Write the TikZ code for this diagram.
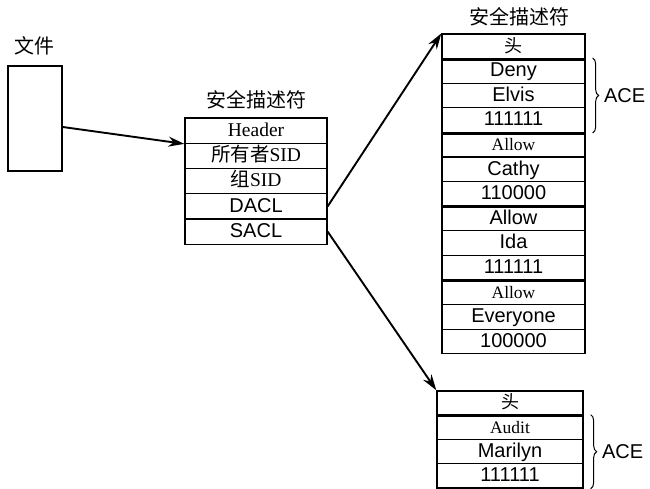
\documentclass[tikz,border=0pt]{standalone}
\usepackage{fontspec}
\setmainfont{Liberation Serif}
\setsansfont{Liberation Sans}
\newfontfamily\cjk{Noto Sans CJK SC}
\usetikzlibrary{arrows.meta,decorations.pathreplacing}
\begin{document}
\begin{tikzpicture}[x=1pt,y=-1pt,
  box/.style={draw,line width=1.3pt,inner sep=0pt,text height=12pt,text depth=0.4pt},
  mcell/.style={box,minimum width=142pt,minimum height=25.25pt},
  rcell/.style={box,minimum width=143pt,minimum height=24.6pt},
  bcell/.style={box,minimum width=146pt,minimum height=24.25pt},
  sf/.style={font=\fontsize{20}{20}\sffamily},
  rm/.style={font=\fontsize{17.5}{17.5}\rmfamily},
  mrm/.style={font=\fontsize{19.5}{19.5}\rmfamily},
  ck/.style={font=\fontsize{18}{18}\cjk},
  title/.style={font=\fontsize{20}{20}\cjk,inner sep=0pt},
  thickline/.style={line width=3pt},
  arr/.style={line width=1.9pt,-{Stealth[length=16pt,width=10pt]}},
  brace/.style={decorate,decoration={brace,amplitude=6pt},line width=1pt}]
\useasboundingbox (0,0) rectangle (650,489);

% file
\node[title] (filelbl) at (34,46) {文件};
\node[draw,line width=1.5pt,minimum width=54pt,minimum height=105pt,inner sep=0pt] (file) at (35,118.5) {};

% middle security descriptor
\node[title] (mlbl) at (256,100) {安全描述符};
\node[mcell,mrm] (m1) at (256,130.6) {Header};
\node[mcell,mrm] (m2) at (256,155.9) {{\cjk 所有者}SID};
\node[mcell,mrm] (m3) at (256,181.1) {{\cjk 组}SID};
\node[mcell,sf] (m4) at (256,206.4) {DACL};
\node[mcell,sf] (m5) at (256,231.6) {SACL};

% right descriptor (DACL)
\node[title] (rlbl) at (519,17) {安全描述符};
\node[rcell,ck] (r1) at (513.5,46.3) {头};
\node[rcell,sf] (r2) at (513.5,70.9) {Deny};
\node[rcell,sf] (r3) at (513.5,95.5) {Elvis};
\node[rcell,sf] (r4) at (513.5,120.1) {111111};
\node[rcell,rm] (r5) at (513.5,144.7) {Allow};
\node[rcell,sf] (r6) at (513.5,169.3) {Cathy};
\node[rcell,sf] (r7) at (513.5,193.9) {110000};
\node[rcell,sf] (r8) at (513.5,218.5) {Allow};
\node[rcell,sf] (r9) at (513.5,243.1) {Ida};
\node[rcell,sf] (r10) at (513.5,267.7) {111111};
\node[rcell,rm] (r11) at (513.5,292.3) {Allow};
\node[rcell,sf] (r12) at (513.5,316.9) {Everyone};
\node[rcell,sf] (r13) at (513.5,341.5) {100000};
\foreach \n in {r1,r4,r7,r10}
  \draw[thickline] (\n.south west) -- (\n.south east);

% bottom descriptor (SACL)
\node[bcell,ck] (b1) at (510,403.1) {头};
\node[bcell,rm] (b2) at (510,427.4) {Audit};
\node[bcell,sf] (b3) at (510,451.6) {Marilyn};
\node[bcell,sf] (b4) at (510,475.9) {111111};
\draw[thickline] (b1.south west) -- (b1.south east);

% braces
\draw[brace] ([xshift=7pt]r2.north east) -- ([xshift=7pt]r4.south east)
  node[midway,right=11pt,sf,inner sep=0pt] (ace1) {ACE};
\draw[brace] ([xshift=7pt]b2.north east) -- ([xshift=7pt]b4.south east)
  node[midway,right=11pt,sf,inner sep=0pt] (ace2) {ACE};

% arrows
\draw[arr] ([yshift=-8.5pt]file.east) -- (m1.south west);
\draw[arr] (m4.east) -- (r1.north west);
\draw[arr] (m5.east) -- (b1.north west);
\end{tikzpicture}
\end{document}
